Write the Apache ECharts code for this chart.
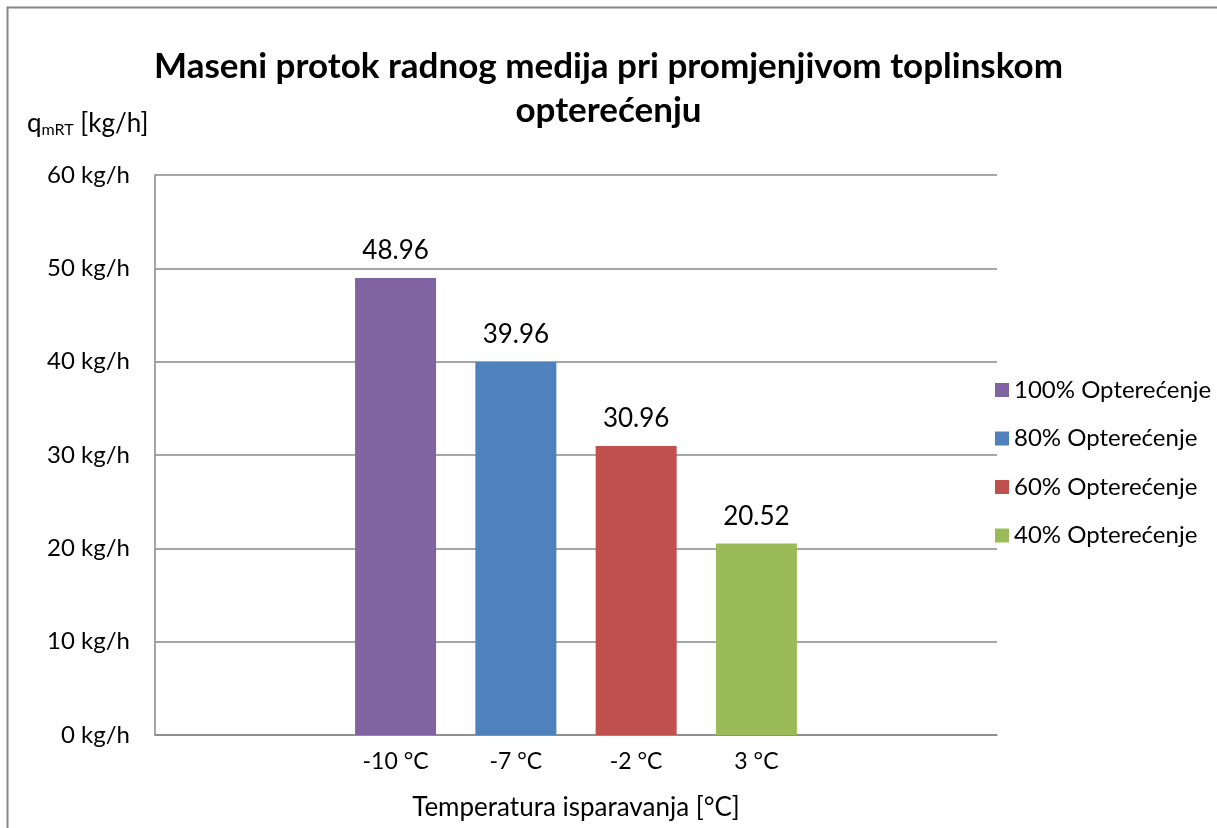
<!DOCTYPE html>
<html>
<head>
<meta charset="utf-8">
<script src="https://cdn.jsdelivr.net/npm/echarts@6/dist/echarts.min.js"></script>
<style>
html,body{margin:0;padding:0;background:#fff;}
#c{width:1217px;height:828px;}
</style>
</head>
<body>
<div id="c"></div>
<script>
const titleText = 'Maseni protok radnog medija pri promjenjivom toplinskom\nopterećenju';
const categories = ['-10 °C', '-7 °C', '-2 °C', '3 °C'];
const seriesNames = ['100% Opterećenje', '80% Opterećenje', '60% Opterećenje', '40% Opterećenje'];
const seriesValues = [48.96, 39.96, 30.96, 20.52];
const colors = ['#8064A2', '#4F81BD', '#C0504D', '#9BBB59'];
const yTicks = [0, 10, 20, 30, 40, 50, 60];
const xName = 'Temperatura isparavanja [°C]';
const yUnit = 'kg/h';

const FONT = 'Lato';
// empty padding slots on each side so the bars sit where the original places them
const pad = 2;
const axisCats = [].concat(Array(pad).fill(''), categories, Array(pad).fill(''));

const series = seriesNames.map((name, i) => {
  const data = axisCats.map(() => null);
  data[pad + i] = seriesValues[i];
  return {
    name: name,
    type: 'bar',
    data: data,
    barWidth: 81,
    barGap: '-100%',
    itemStyle: { color: colors[i] },
    label: {
      show: true, position: 'top', distance: 14,
      fontFamily: FONT, fontSize: 26, color: '#000',
      formatter: p => p.value.toFixed(2)
    }
  };
});

const chart = echarts.init(document.getElementById('c'), null, { renderer: 'canvas' });
chart.setOption({
  animation: false,
  backgroundColor: '#fff',
  title: {
    text: titleText,
    left: 'center',
    top: 40,
    textStyle: { fontFamily: FONT, fontWeight: 'bold', fontSize: 35, lineHeight: 44, color: '#000' }
  },
  legend: {
    orient: 'vertical',
    left: 990,
    top: 373,
    itemWidth: 14,
    itemHeight: 14,
    itemGap: 24.5,
    icon: 'rect',
    data: seriesNames,
    textStyle: { fontFamily: FONT, fontSize: 24, lineHeight: 24, color: '#000', padding: [0, 0, 0, 0] }
  },
  grid: { left: 155, right: 220, top: 175, bottom: 93, containLabel: false, outerBoundsMode: 'none' },
  xAxis: {
    type: 'category',
    data: axisCats,
    boundaryGap: false,
    name: xName,
    nameLocation: 'middle',
    nameGap: 60,
    nameTextStyle: { fontFamily: FONT, fontSize: 26, color: '#000' },
    axisLine: { lineStyle: { color: '#888', width: 1.5 } },
    axisTick: { show: false },
    axisLabel: { fontFamily: FONT, fontSize: 23, color: '#000', margin: 15, interval: 0 },
    splitLine: { show: false }
  },
  yAxis: {
    type: 'value',
    min: yTicks[0],
    max: yTicks[yTicks.length - 1],
    interval: yTicks[1] - yTicks[0],
    axisLine: { show: true, lineStyle: { color: '#888', width: 1.5 } },
    axisTick: { show: false },
    axisLabel: { fontFamily: FONT, fontSize: 24, color: '#000', margin: 25, formatter: '{value} ' + yUnit },
    splitLine: { lineStyle: { color: '#888', width: 1.5 } }
  },
  graphic: [
    {
      type: 'rect',
      shape: { x: 7.5, y: 7.5, width: 1400, height: 1000 },
      style: { fill: 'none', stroke: '#888', lineWidth: 2 },
      silent: true
    },
    {
      type: 'text',
      left: 27,
      top: 110,
      style: {
        text: '{a|q}{s|mRT}{a| [' + yUnit + ']}',
        rich: {
          a: { fontFamily: FONT, fontSize: 26, color: '#000', lineHeight: 30, verticalAlign: 'middle' },
          s: { fontFamily: FONT, fontSize: 16, color: '#000', lineHeight: 30, verticalAlign: 'middle', padding: [12, 0, 0, 0] }
        }
      }
    }
  ],
  series: series
});
</script>
</body>
</html>
